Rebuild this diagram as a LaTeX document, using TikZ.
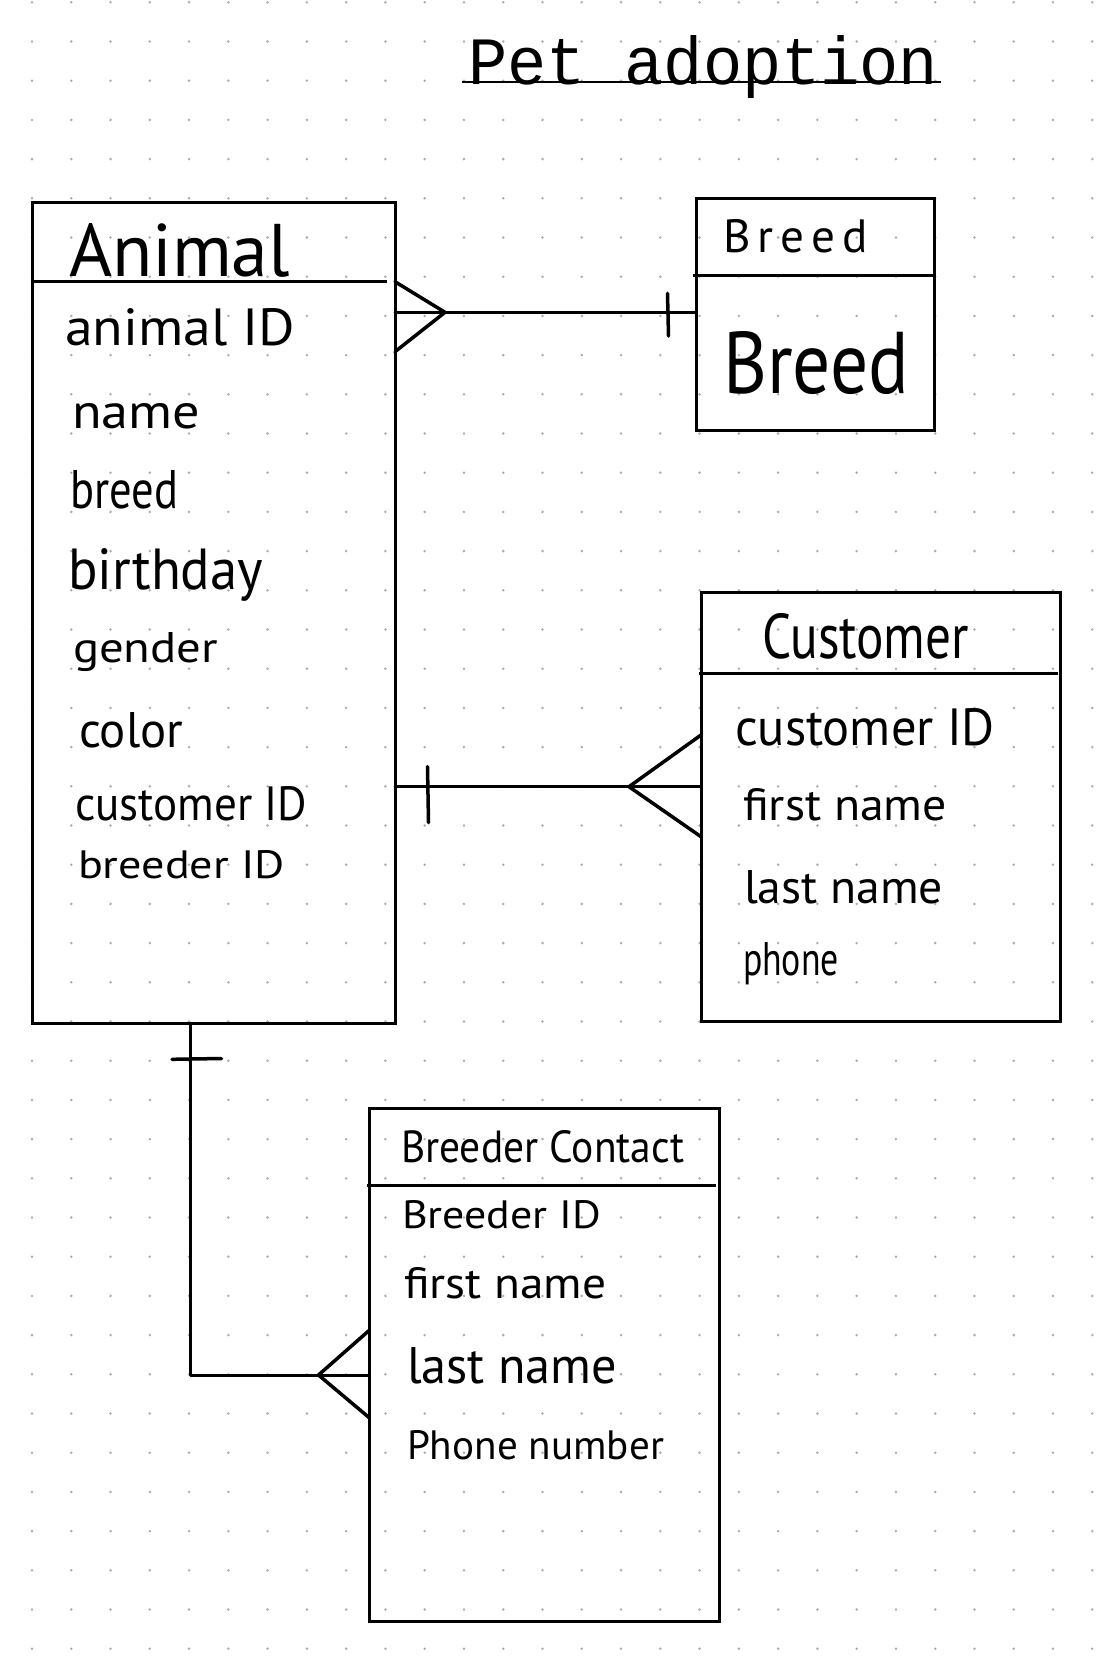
\documentclass[tikz,border=0pt]{standalone}
\usepackage{fontspec}
\usepackage{graphicx}
\usetikzlibrary{calc}
\newfontfamily\handfont{PT Sans}
\newfontfamily\titlefont{Liberation Mono}
\newcommand\hwtext[3]{\resizebox{#1pt}{#2pt}{\handfont #3}}

\begin{document}
\begin{tikzpicture}[x=1pt,y=-1pt,
  ent/.style={draw=black, line width=3pt, anchor=north west, inner sep=0pt, outer sep=0pt},
  lbl/.style={anchor=base west, inner sep=0pt, outer sep=0pt, text=black},
  link/.style={draw=black, line width=3pt, line cap=round, line join=round},
  foot/.style={draw=black, line width=3.5pt, line cap=round, line join=round},
  hdr/.style={draw=black, line width=3pt},
]
\useasboundingbox[fill=white] (0,0) rectangle (1102,1671);
\foreach \i in {0,...,27}{\foreach \j in {0,...,42}{\fill[black!32] (32+\i*39.27, 2.3+\j*39.2) circle[radius=1.4pt];}}

% title
\node[lbl] (title) at (468,84) {\resizebox{470pt}{49pt}{\titlefont Pet adoption}};
\draw[line width=2.5pt] ($(title.base west)+(-6,-2)$) -- ($(title.base east)+(3,-2)$);

% entities
\node[ent, minimum width=363pt, minimum height=821pt] (animal) at (32,202.5) {};
\node[ent, minimum width=238.5pt, minimum height=231.5pt] (breed) at (696,198.5) {};
\node[ent, minimum width=359pt, minimum height=429pt] (customer) at (701,592.7) {};
\node[ent, minimum width=350pt, minimum height=512.5pt] (breeder) at (369.6,1108.5) {};

% header lines
\draw[hdr] ($(animal.north west)+(0,79)$) -- ($(animal.north west)+(355,79)$);
\draw[hdr] ($(breed.north west)+(-3,77.2)$) -- ($(breed.north east)+(0,77.2)$);
\draw[hdr] ($(customer.north west)+(-2,80.6)$) -- ($(customer.north east)+(-2,80.6)$);
\draw[hdr] ($(breeder.north west)+(-3,76.5)$) -- ($(breeder.north east)+(-4,76.5)$);

% Animal texts
\node[lbl] (aT) at (69,276) {\hwtext{221}{53}{Animal}};
\node[lbl] (a1) at (65,345) {\hwtext{230}{37}{animal ID}};
\node[lbl] (a2) at (72,428) {\hwtext{128}{25}{name}};
\node[lbl] (a3) at (70,508) {\hwtext{108}{38}{breed}};
\node[lbl] (a4) at (68,589) {\hwtext{195}{41}{birthday}};
\node[lbl] (a5) at (73,662) {\hwtext{145}{30}{gender}};
\node[lbl] (a6) at (79,747) {\hwtext{104}{35}{color}};
\node[lbl] (a7) at (75,820) {\hwtext{232}{34}{customer ID}};
\node[lbl] (a8) at (78,878) {\hwtext{207}{28}{breeder ID}};

% Breed texts
\node[lbl] (bT) at (723,252) {\hwtext{145}{33}{B\kern0.15em r\kern0.15em e\kern0.15em e\kern0.15em d}};
\node[lbl] (b1) at (723,393) {\hwtext{186}{62}{Breed}};

% Customer texts
\node[lbl] (cT) at (762,658) {\hwtext{207}{45}{Customer}};
\node[lbl] (c1) at (735,745) {\hwtext{260}{37}{customer ID}};
\node[lbl] (c2) at (743,820) {\hwtext{204}{32}{first name}};
\node[lbl] (c3) at (744,903) {\hwtext{199}{33}{last name}};
\node[lbl] (c4) at (743,975) {\hwtext{96}{33}{phone}};

% Breeder Contact texts
\node[lbl] (dT) at (401,1162) {\hwtext{283}{32}{Breeder Contact}};
\node[lbl] (d1) at (402,1228) {\hwtext{199}{28}{Breeder ID}};
\node[lbl] (d2) at (404,1298) {\hwtext{202}{31}{first name}};
\node[lbl] (d3) at (407,1383) {\hwtext{210}{36}{last name}};
\node[lbl] (d4) at (407,1459) {\hwtext{257}{29}{Phone number}};

% Animal -- Breed (many to one)
\coordinate (ab1) at ($(animal.north east)+(0,109.8)$);
\coordinate (ab2) at (ab1 -| breed.west);
\draw[link] (ab1) -- (ab2);
\draw[foot] ($(ab1)+(0,-30.6)$) -- ($(ab1)+(50,0)$) -- ($(ab1)+(0,39.4)$);
\draw[foot] ($(ab2)+(-28.5,-19)$) -- ($(ab2)+(-27.5,23.7)$);

% Animal -- Customer (one to many)
\coordinate (ac1) at ($(animal.north east)+(0,584.2)$);
\coordinate (ac2) at (ac1 -| customer.west);
\draw[link] (ac1) -- (ac2);
\draw[foot] ($(ac1)+(32.5,-20)$) -- ($(ac1)+(33.5,36)$);
\draw[foot] ($(ac2)+(0,-51.7)$) -- ($(ac2)+(-72,0)$) -- ($(ac2)+(0,50)$);

% Animal -- Breeder Contact (one to many)
\coordinate (ad1) at ($(animal.south west)+(158.7,0)$);
\coordinate (ad2) at ($(breeder.north west)+(0,266.5)$);
\draw[link] (ad1) |- (ad2);
\draw[foot] ($(ad1)+(-18.7,35.8)$) -- ($(ad1)+(30.8,35)$);
\draw[foot] ($(ad2)+(0,-45)$) -- ($(ad2)+(-51.1,0)$) -- ($(ad2)+(0,43)$);
\end{tikzpicture}
\end{document}
